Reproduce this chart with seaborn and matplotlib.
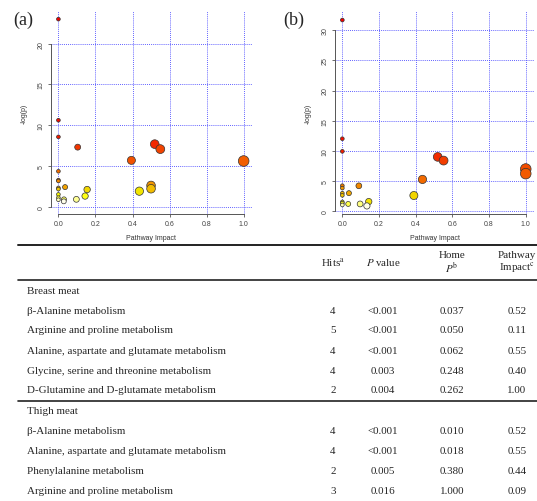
import colorsys
import numpy as np
import pandas as pd
import matplotlib.pyplot as plt
import seaborn as sns
from matplotlib.lines import Line2D

# pathway impact / -log(p)
impact_a = [0.0, 0.0, 0.0, 0.52, 0.104, 0.55, 0.394, 1.0, 0.0, 0.0, 0.0, 0.5, 0.036,
            0.0, 0.5, 0.0, 0.155, 0.437, 0.0, 0.144, 0.0, 0.03, 0.097, 0.0, 0.029]
logp_a = [23.0, 10.6, 8.56, 7.67, 7.3, 7.06, 5.68, 5.6, 4.34, 3.25, 3.15, 2.6, 2.4,
          2.3, 2.2, 2.15, 2.1, 1.9, 1.5, 1.3, 1.1, 0.9, 0.9, 0.85, 0.65]

impact_b = [0.0, 0.0, 0.0, 0.52, 0.552, 1.0, 1.0, 0.437, 0.0, 0.09, 0.0, 0.036, 0.0,
            0.0, 0.39, 0.144, 0.0, 0.0, 0.032, 0.097, 0.0, 0.134]
logp_b = [31.7, 12.0, 9.9, 8.98, 8.37, 6.97, 6.2, 5.24, 4.2, 4.18, 3.8, 2.96, 2.95,
          2.6, 2.57, 1.56, 1.5, 1.3, 1.17, 1.17, 1.0, 0.84]

# table
col_heads = ["Hits$^{\\rm a}$", "$P$ value", "Home\n$P^{\\rm b}$", "Pathway\nImpact$^{\\rm c}$"]
breast_names = ["β-Alanine metabolism", "Arginine and proline metabolism",
                "Alanine, aspartate and glutamate metabolism",
                "Glycine, serine and threonine metabolism",
                "D-Glutamine and D-glutamate metabolism"]
breast_hits = ["4", "5", "4", "4", "2"]
breast_p = ["<0.001", "<0.001", "<0.001", "0.003", "0.004"]
breast_holm = ["0.037", "0.050", "0.062", "0.248", "0.262"]
breast_imp = ["0.52", "0.11", "0.55", "0.40", "1.00"]
thigh_names = ["β-Alanine metabolism", "Alanine, aspartate and glutamate metabolism",
               "Phenylalanine metabolism", "Arginine and proline metabolism"]
thigh_hits = ["4", "4", "2", "3"]
thigh_p = ["<0.001", "<0.001", "0.005", "0.016"]
thigh_holm = ["0.010", "0.018", "0.380", "1.000"]
thigh_imp = ["0.52", "0.55", "0.44", "0.09"]

W, H = 537, 502
DPI = 100

sns.set_style("white")
plt.rcParams['font.family'] = ['Liberation Sans', 'DejaVu Sans']
plt.rcParams['mathtext.fontset'] = 'stix'


def heat_colors(n):
    # same scheme as R's heat.colors(), a touch darker like the scan
    j = n // 4
    i = n - j
    cols = [colorsys.hsv_to_rgb(h, 1, 0.95) for h in np.linspace(0, 1 / 6, i)]
    if j > 0:
        cols += [colorsys.hsv_to_rgb(1 / 6, s, 1)
                 for s in np.linspace(1 - 1 / (2 * j), 1 / (2 * j), j)]
    return cols


def px(x, y):
    return x / W, 1 - y / H


def pathway_plot(ax, impact, logp, yticks, ylim):
    df = pd.DataFrame({'impact': impact, 'logp': logp})
    df = df.sort_values('logp', ascending=False).reset_index(drop=True)
    df['id'] = [f"p{i}" for i in range(len(df))]
    pal = dict(zip(df['id'], heat_colors(len(df))))
    # radius in x-data units as in MetaboAnalyst, converted to points^2
    ppu = 185 * 72 / DPI
    sizes = {v: (2 * ppu * (1 / 160 + (1 / 40 - 1 / 160) * np.sqrt(v)) + 1.0) ** 2
             for v in df['impact'].unique()}
    sns.scatterplot(data=df, x='impact', y='logp', hue='id', palette=pal,
                    size='impact', sizes=sizes, edgecolor='#333333', linewidth=0.5,
                    alpha=1, legend=False, ax=ax, zorder=3)
    ax.set_xlim(-0.04, 1.045)
    ax.set_ylim(*ylim)
    ax.set_xticks([0, 0.2, 0.4, 0.6, 0.8, 1.0])
    ax.set_xticklabels(["0.0", "0.2", "0.4", "0.6", "0.8", "1.0"])
    ax.set_yticks(yticks)
    ax.set_yticklabels([str(t) for t in yticks], rotation=90, va='center')
    ax.grid(True, color='#4b4bff', linestyle=(0, (1, 1.3)), linewidth=0.65)
    ax.set_axisbelow(True)
    for s in ['top', 'right']:
        ax.spines[s].set_visible(False)
    ax.spines['left'].set_bounds(yticks[0], yticks[-1])
    ax.spines['bottom'].set_bounds(0, 1)
    for s in ['left', 'bottom']:
        ax.spines[s].set_color('#555555')
        ax.spines[s].set_linewidth(0.7)
    ax.tick_params(axis='both', length=2.5, width=0.6, color='#555555',
                   labelsize=5, labelcolor='#444444', pad=2, left=True, bottom=True)
    ax.set_xlabel("Pathway Impact", fontsize=5, color='#333333', labelpad=5)
    ax.set_ylabel("-log(p)", fontsize=5, color='#333333', labelpad=7)


fig = plt.figure(figsize=(W / DPI, H / DPI), dpi=DPI)

ax_a = fig.add_axes([51 / W, 1 - 215 / H, 201 / W, 203 / H])
pathway_plot(ax_a, impact_a, logp_a, [0, 5, 10, 15, 20], (-0.9, 24.0))
ax_b = fig.add_axes([335 / W, 1 - 215 / H, 199 / W, 203 / H])
pathway_plot(ax_b, impact_b, logp_b, [0, 5, 10, 15, 20, 25, 30], (-0.5, 33.2))

serif = ['Liberation Serif', 'DejaVu Serif']
fig.text(*px(13, 20), "(a)", fontsize=13, family=serif, va='center', ha='left')
fig.text(*px(283, 20), "(b)", fontsize=13, family=serif, va='center', ha='left')

# table rules
for y, lw in [(246, 1.4), (281, 1.2), (402, 1.2)]:
    fig.add_artist(Line2D([18 / W, 1.0], [1 - y / H] * 2, color='#222222', lw=lw))

col_x = [333, 383, 452, 517]
tfs = 7.9
for cx, head in zip(col_x, col_heads):
    fig.text(*px(cx, 263), head, fontsize=tfs, family=serif, ha='center', va='center',
             linespacing=1.05)


def table_block(y0, title, names, hits, p, holm, imp):
    fig.text(*px(27, y0), title, fontsize=tfs, family=serif, ha='left', va='center')
    for k in range(len(names)):
        y = y0 + 20 * (k + 1)
        fig.text(*px(27, y), names[k], fontsize=tfs, family=serif, ha='left', va='center')
        for cx, val in zip(col_x, [hits[k], p[k], holm[k], imp[k]]):
            fig.text(*px(cx, y), val, fontsize=tfs, family=serif, ha='center', va='center')


table_block(291, "Breast meat", breast_names, breast_hits, breast_p, breast_holm, breast_imp)
table_block(412, "Thigh meat", thigh_names, thigh_hits, thigh_p, thigh_holm, thigh_imp)

fig.savefig("out.png", dpi=DPI)
